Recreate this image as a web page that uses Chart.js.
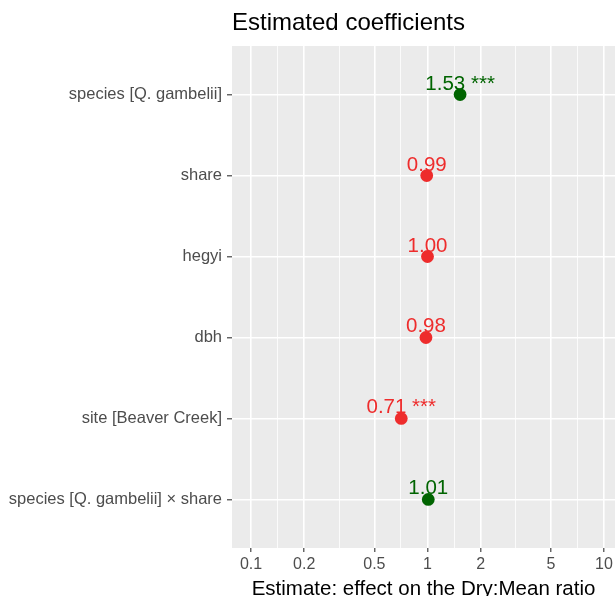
<!DOCTYPE html>
<html>
<head>
<meta charset="utf-8">
<script src="https://cdn.jsdelivr.net/npm/chart.js@4/dist/chart.umd.min.js"></script>
<style>
  html, body { margin: 0; padding: 0; background: #ffffff; }
  #wrap { width: 615px; height: 596px; }
</style>
</head>
<body>
<div id="wrap"><canvas id="c" width="615" height="596"></canvas></div>
<script>
// Model terms, top to bottom
const terms = [
  'species [Q. gambelii]',
  'share',
  'hegyi',
  'dbh',
  'site [Beaver Creek]',
  'species [Q. gambelii] × share'
];
// Exponentiated estimates (ratio scale)
const estimates = [1.53, 0.99, 1.00, 0.98, 0.71, 1.01];
// Significance stars per term
const stars = ['***', '', '', '', '***', ''];
// Direction of the raw effect (1.00 is a rounded value just below one)
const direction = ['pos', 'neg', 'neg', 'neg', 'neg', 'pos'];
// Axis ticks on the log scale
const xTickValues = [0.1, 0.2, 0.5, 1, 2, 5, 10];
const xTickLabels = ['0.1', '0.2', '0.5', '1', '2', '5', '10'];

const X_MIN = 0.078;
const X_MAX = 11.55;

const POS_COLOR = '#006400';
const NEG_COLOR = '#EE2C2C';
const FONT = "'Liberation Sans', Arial, Helvetica, sans-serif";

const pointColors = direction.map(d => d === 'pos' ? POS_COLOR : NEG_COLOR);
const points = estimates.map((v, i) => ({ x: v, y: i + 1 }));

// Minor gridlines sit halfway (in log space) between major ticks
const minorValues = [];
for (let i = 0; i < xTickValues.length - 1; i++) {
  minorValues.push(Math.sqrt(xTickValues[i] * xTickValues[i + 1]));
}

function tickKind(ctx) {
  return ctx.tick ? ctx.tick.kind : 'edge';
}

const panelBackground = {
  id: 'panelBackground',
  beforeDraw(chart) {
    const { ctx, chartArea: a } = chart;
    ctx.save();
    ctx.fillStyle = '#EBEBEB';
    ctx.fillRect(a.left, a.top, a.right - a.left, a.bottom - a.top);
    ctx.restore();
  }
};

const valueLabels = {
  id: 'valueLabels',
  beforeDatasetsDraw(chart) {
    const { ctx } = chart;
    const meta = chart.getDatasetMeta(0);
    ctx.save();
    ctx.font = '20.5px ' + FONT;
    ctx.textAlign = 'center';
    ctx.textBaseline = 'alphabetic';
    meta.data.forEach((pt, i) => {
      const txt = estimates[i].toFixed(2) + (stars[i] ? ' ' + stars[i] : '');
      ctx.fillStyle = pointColors[i];
      ctx.fillText(txt, pt.x, pt.y - 5);
    });
    ctx.restore();
  }
};

const titles = {
  id: 'titles',
  afterDraw(chart) {
    const { ctx, chartArea: a } = chart;
    ctx.save();
    ctx.fillStyle = '#000000';
    ctx.textBaseline = 'alphabetic';
    ctx.font = '24px ' + FONT;
    ctx.textAlign = 'left';
    ctx.fillText('Estimated coefficients', a.left, 29.5);
    ctx.font = '20.5px ' + FONT;
    ctx.textAlign = 'center';
    ctx.fillText('Estimate: effect on the Dry:Mean ratio', (a.left + a.right) / 2, 594.5);
    ctx.restore();
  }
};

new Chart(document.getElementById('c'), {
  type: 'scatter',
  data: {
    datasets: [{
      data: points,
      pointRadius: 6.4,
      pointHoverRadius: 6.4,
      pointBackgroundColor: pointColors,
      pointBorderColor: pointColors,
      pointBorderWidth: 0
    }]
  },
  options: {
    responsive: false,
    devicePixelRatio: 1,
    animation: false,
    events: [],
    layout: { autoPadding: false, padding: { top: 46, right: 0, bottom: 0, left: 0 } },
    plugins: {
      legend: { display: false },
      tooltip: { enabled: false },
      title: { display: false }
    },
    scales: {
      x: {
        type: 'logarithmic',
        min: X_MIN,
        max: X_MAX,
        afterBuildTicks(scale) {
          const t = [{ value: X_MIN, kind: 'edge' }]
            .concat(xTickValues.map(v => ({ value: v, major: true, kind: 'major' })))
            .concat(minorValues.map(v => ({ value: v, kind: 'minor' })))
            .concat([{ value: X_MAX, kind: 'edge' }]);
          t.sort((p, q) => p.value - q.value);
          scale.ticks = t;
        },
        afterFit(scale) {
          scale.height = 48;
          // let the panel run to the right edge of the canvas
          scale.paddingLeft = 0;
          scale.paddingRight = 0;
        },
        border: { display: false },
        grid: {
          color: ctx => tickKind(ctx) === 'edge' ? 'rgba(0,0,0,0)' : '#FFFFFF',
          lineWidth: ctx => tickKind(ctx) === 'major' ? 1.6 : 0.8,
          drawTicks: true,
          tickLength: 4,
          tickWidth: 1.1,
          tickColor: ctx => tickKind(ctx) === 'major' ? '#333333' : 'rgba(0,0,0,0)'
        },
        ticks: {
          autoSkip: false,
          maxRotation: 0,
          padding: 3,
          color: '#4D4D4D',
          font: { family: FONT, size: 16 },
          callback(value) {
            const idx = xTickValues.findIndex(v => Math.abs(v - value) < 1e-9);
            return idx >= 0 ? xTickLabels[idx] : '';
          }
        }
      },
      y: {
        type: 'linear',
        reverse: true,
        min: 0.4,
        max: 6.6,
        afterBuildTicks(scale) {
          scale.ticks = terms.map((_, i) => ({ value: i + 1 }));
        },
        afterFit(scale) {
          scale.width = 232;
          scale.paddingTop = 0;
          scale.paddingBottom = 0;
        },
        border: { display: false },
        grid: {
          color: '#FFFFFF',
          lineWidth: 1.6,
          drawTicks: true,
          tickLength: 5,
          tickWidth: 1.1,
          tickColor: '#333333'
        },
        ticks: {
          autoSkip: false,
          padding: 5,
          color: '#4D4D4D',
          font: { family: FONT, size: 16.5 },
          callback(value) {
            return terms[Math.round(value) - 1] || '';
          }
        }
      }
    }
  },
  plugins: [panelBackground, valueLabels, titles]
});
</script>
</body>
</html>
